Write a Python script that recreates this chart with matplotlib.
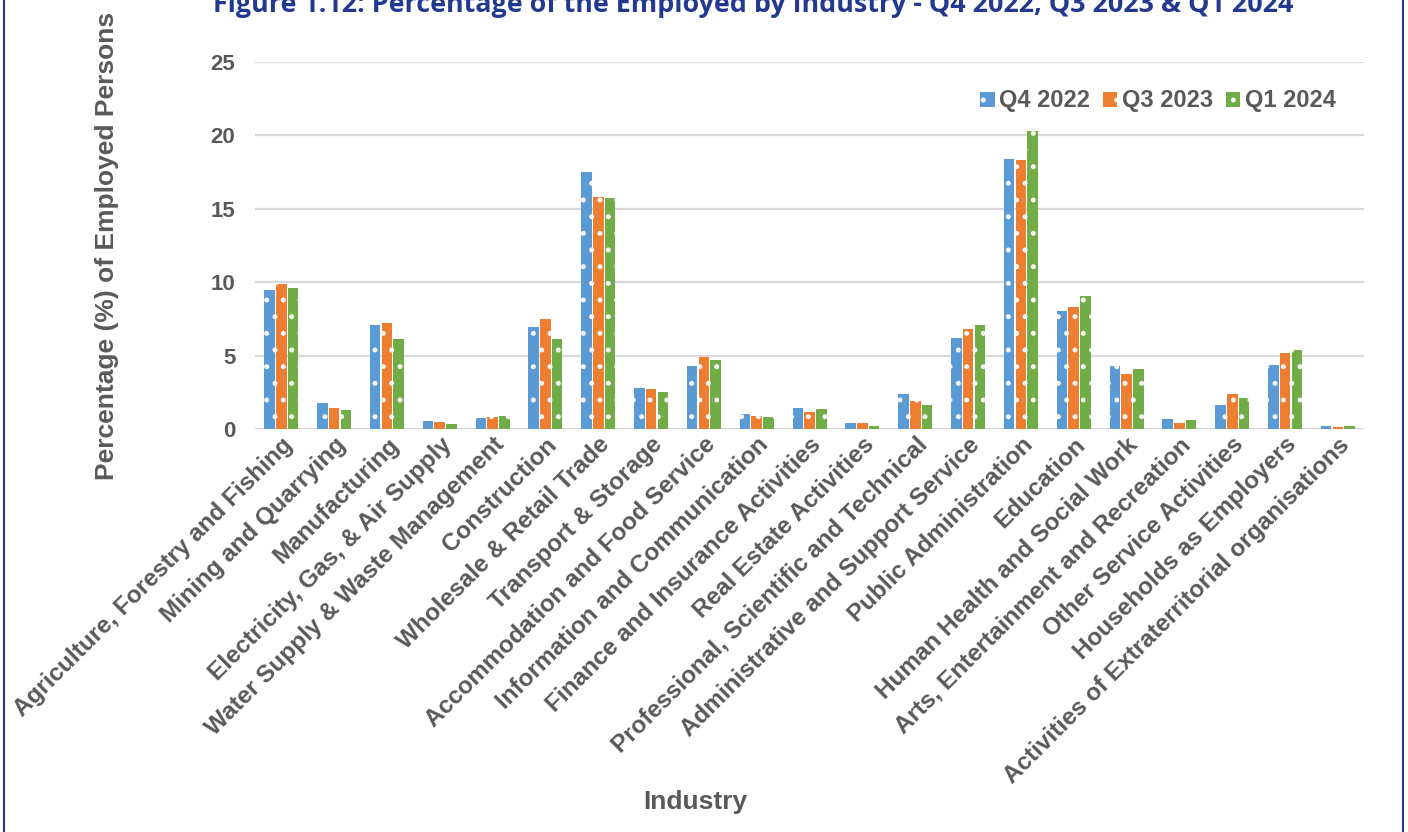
import matplotlib
matplotlib.use("Agg")
import matplotlib.pyplot as plt
from matplotlib.lines import Line2D
import numpy as np

# 数据
industries = [
    "Agriculture, Forestry and Fishing",
    "Mining and Quarrying",
    "Manufacturing",
    "Electricity, Gas, & Air Supply",
    "Water Supply & Waste Management",
    "Construction",
    "Wholesale & Retail Trade",
    "Transport & Storage",
    "Accommodation and Food Service",
    "Information and Communication",
    "Finance and Insurance Activities",
    "Real Estate Activities",
    "Professional, Scientific and Technical",
    "Administrative and Support Service",
    "Public Administration",
    "Education",
    "Human Health and Social Work",
    "Arts, Entertainment and Recreation",
    "Other Service Activities",
    "Households as Employers",
    "Activities of Extraterritorial organisations",
]
series_names = ["Q4 2022", "Q3 2023", "Q1 2024"]
q4_2022 = [9.45, 1.75, 7.06, 0.52, 0.72, 6.92, 17.49, 2.77, 4.27, 1.00, 1.41,
           0.39, 2.36, 6.18, 18.37, 8.02, 4.27, 0.66, 1.61, 4.34, 0.18]
q3_2023 = [9.86, 1.41, 7.20, 0.45, 0.79, 7.47, 15.78, 2.70, 4.88, 0.86, 1.14,
           0.39, 1.89, 6.79, 18.30, 8.29, 3.73, 0.39, 2.36, 5.16, 0.11]
q1_2024 = [9.58, 1.27, 6.11, 0.31, 0.86, 6.11, 15.71, 2.50, 4.68, 0.79, 1.34,
           0.18, 1.61, 7.06, 20.28, 9.04, 4.07, 0.59, 2.09, 5.36, 0.18]
yticks = [0, 5, 10, 15, 20, 25]

colors = ["#5b9bd5", "#ed7d31", "#70ad47"]
grey = "#595959"
navy = "#22398f"

plt.rcParams["font.family"] = ["Liberation Sans", "DejaVu Sans"]
plt.rcParams["hatch.linewidth"] = 1.2

fig = plt.figure(figsize=(14.08, 8.32), dpi=100)
ax = fig.add_axes([0.181, 0.4844, 0.788, 0.4411])

x = np.arange(len(industries))
width = 0.2
offsets = [-0.222, 0.0, 0.222]
for vals, off, col, name in zip([q4_2022, q3_2023, q1_2024], offsets, colors, series_names):
    ax.bar(x + off, vals, width, color=col, edgecolor="#f4f4f4", linewidth=0,
           hatch=".", label=name, zorder=3)

ax.set_xlim(-0.5, len(industries) - 0.5)
ax.set_ylim(0, 25)
ax.set_yticks(yticks)
ax.yaxis.grid(True, color="#d9d9d9", linewidth=1.6, zorder=0)
ax.set_axisbelow(True)
for s in ax.spines.values():
    s.set_visible(False)
ax.tick_params(axis="both", length=0, colors=grey, labelsize=16)
ax.tick_params(axis="y", pad=14)
ax.tick_params(axis="x", pad=3)
for lab in ax.get_yticklabels():
    lab.set_fontweight("bold")
ax.set_xticks(x)
ax.set_xticklabels(industries, rotation=45, ha="right", rotation_mode="anchor",
                   fontweight="bold", color=grey, fontsize=17.5)

# 轴标题
fig.text(0.076, 0.705, "Percentage (%) of Employed Persons", rotation=90,
         ha="center", va="center", fontsize=19, fontweight="bold", color=grey)
fig.text(0.494, 0.036, "Industry", ha="center", va="center",
         fontsize=19, fontweight="bold", color=grey)

# 标题（顶部被裁切，与原图一致）
fig.text(0.535, 0.994, "Figure 1.12: Percentage of the Employed by Industry - Q4 2022, Q3 2023 & Q1 2024",
         ha="center", va="center", fontsize=19.4, fontweight="bold", color=navy,
         family=["Open Sans", "DejaVu Sans"])

# 图例
leg = ax.legend(loc="upper right", bbox_to_anchor=(0.964, 0.918),
                bbox_transform=fig.transFigure, ncol=3, frameon=False,
                handlelength=0.6, handleheight=0.6, handletextpad=0.2,
                columnspacing=0.55, fontsize=17)
for t in leg.get_texts():
    t.set_fontweight("bold")
    t.set_color(grey)

# 边框
fig.add_artist(Line2D([0.0025, 0.0025], [0, 1], transform=fig.transFigure,
                      color=navy, linewidth=1.5))
fig.add_artist(Line2D([0.9965, 0.9965], [0, 1], transform=fig.transFigure,
                      color=navy, linewidth=1.5))

fig.savefig("out.png", dpi=100)
